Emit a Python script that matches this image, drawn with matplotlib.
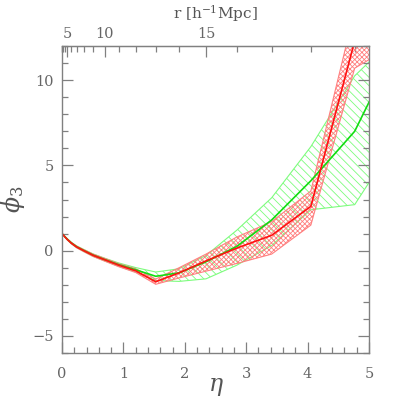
import numpy as np
import matplotlib
matplotlib.use("Agg")
import matplotlib.pyplot as plt
from matplotlib.ticker import MultipleLocator, FixedLocator

# r grid (h^-1 Mpc) and the eta scale: eta = C * r^3
C = 0.000695
r_vals = np.arange(1, 21)

red_mid = [1.0, 0.98, 0.93, 0.82, 0.66, 0.45, 0.22, 0.0, -0.27, -0.53, -0.85, -1.18,
           -1.82, -1.3, -0.6, 0.15, 0.9, 2.6, 12.3, 16.0]
red_lo = [1.0, 0.98, 0.92, 0.80, 0.63, 0.41, 0.17, -0.06, -0.34, -0.61, -0.94, -1.28,
          -1.97, -1.6, -1.2, -0.75, -0.2, 1.5, 10.7, 12.4]
red_hi = [1.0, 0.98, 0.94, 0.84, 0.69, 0.49, 0.27, 0.06, -0.20, -0.45, -0.76, -1.06,
          -1.66, -1.0, -0.2, 0.8, 1.7, 3.5, 14.1, 20.0]

grn_mid = [1.0, 0.98, 0.93, 0.83, 0.67, 0.46, 0.23, 0.01, -0.26, -0.52, -0.82, -1.12,
           -1.5, -1.3, -0.65, 0.25, 1.8, 4.1, 7.0, 12.8]
grn_lo = [1.0, 0.98, 0.92, 0.81, 0.64, 0.42, 0.18, -0.05, -0.33, -0.60, -0.92, -1.25,
          -1.75, -1.8, -1.65, -0.85, 0.3, 2.4, 2.7, 7.1]
grn_hi = [1.0, 0.98, 0.94, 0.85, 0.70, 0.50, 0.28, 0.07, -0.19, -0.44, -0.72, -0.99,
          -1.25, -1.06, -0.28, 1.2, 3.1, 6.1, 10.25, 13.0]

eta = C * r_vals.astype(float) ** 3

plt.rcParams['hatch.linewidth'] = 0.6
plt.rcParams['font.family'] = ['DejaVu Serif']
plt.rcParams['mathtext.fontset'] = 'dejavuserif'

GRAY = '#808080'
fig = plt.figure(figsize=(4.03, 4.03), dpi=100)
ax = fig.add_axes([0.1538, 0.124, 0.7618, 0.7618])

ax.fill_between(eta, grn_lo, grn_hi, facecolor='none', edgecolor='#7dfc7d',
                hatch='\\\\\\\\', linewidth=0.8)
ax.fill_between(eta, red_lo, red_hi, facecolor='none', edgecolor='#ff8080',
                hatch='xxxxxxx', linewidth=0.8)
ax.plot(eta, grn_mid, color='#11dd11', lw=1.2)
ax.plot(eta, red_mid, color='#ff1111', lw=1.2)

ax.set_xlim(0, 5)
ax.set_ylim(-6, 12)
ax.xaxis.set_major_locator(MultipleLocator(1))
ax.xaxis.set_minor_locator(MultipleLocator(0.2))
ax.yaxis.set_major_locator(MultipleLocator(5))
ax.yaxis.set_minor_locator(MultipleLocator(1))
ax.tick_params(which='both', direction='in', color=GRAY, labelcolor='#666666',
               labelsize=10.5, top=False, right=True, bottom=True, left=True)
ax.tick_params(which='major', length=8, width=0.9)
ax.tick_params(which='minor', length=4, width=0.9)
ax.tick_params(axis='x', pad=10)
ax.tick_params(axis='y', pad=6)
for s in ax.spines.values():
    s.set_color(GRAY)
    s.set_linewidth(1.0)

ax.set_xlabel(r'$\eta$', fontsize=17, color='#555555')
ax.xaxis.set_label_coords(0.5, -0.072)
ax.set_ylabel(r'$\phi_3$', fontsize=17, color='#555555')
ax.yaxis.set_label_coords(-0.115, 0.5)

sec = ax.secondary_xaxis('top', functions=(lambda e: np.cbrt(np.asarray(e) / C),
                                           lambda r: C * np.asarray(r) ** 3))
sec.xaxis.set_major_locator(FixedLocator([5, 10, 15]))
sec.xaxis.set_minor_locator(FixedLocator(list(range(1, 20))))
sec.tick_params(which='both', direction='in', color=GRAY, labelcolor='#666666',
                labelsize=10.5)
sec.tick_params(which='major', length=8, width=0.9)
sec.tick_params(which='minor', length=4, width=0.9)
sec.spines['top'].set_color(GRAY)
sec.set_xlabel(r'r [h$^{-1}$Mpc]', fontsize=11, color='#555555', labelpad=6)

fig.savefig('out.png', dpi=100)
